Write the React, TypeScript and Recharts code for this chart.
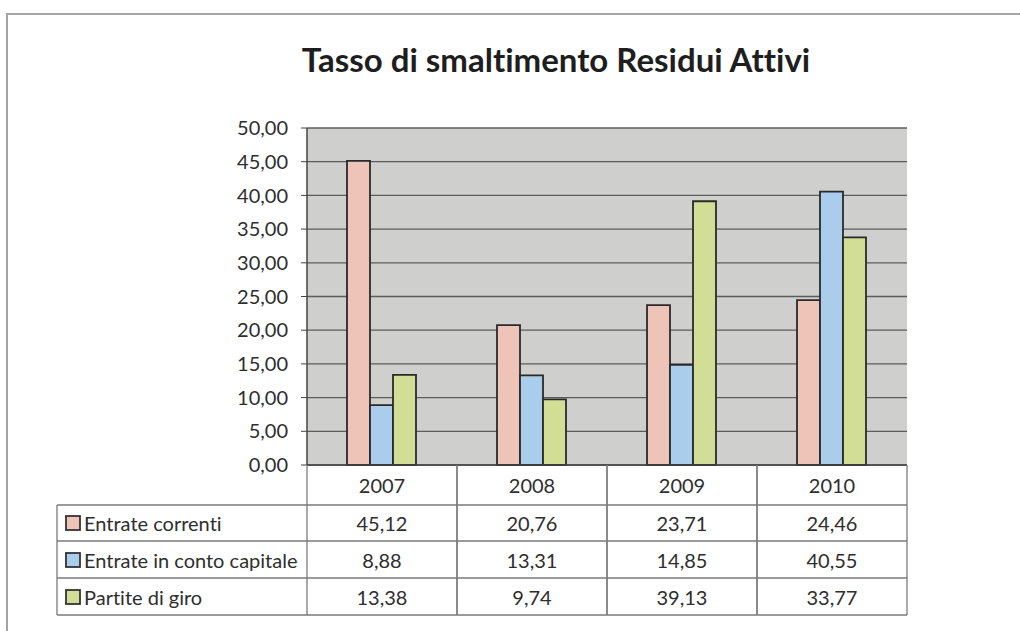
import React from "react";
import { Bar, BarChart, CartesianGrid, XAxis, YAxis } from "recharts";

const years = ["2007", "2008", "2009", "2010"];
const entrateCorrenti = [45.12, 20.76, 23.71, 24.46];
const entrateContoCapitale = [8.88, 13.31, 14.85, 40.55];
const partiteDiGiro = [13.38, 9.74, 39.13, 33.77];
const yTicks = [0, 5, 10, 15, 20, 25, 30, 35, 40, 45, 50];

const seriesList = [
  { key: "correnti", name: "Entrate correnti", values: entrateCorrenti, color: "#eec4b8" },
  { key: "capitale", name: "Entrate in conto capitale", values: entrateContoCapitale, color: "#a9cdeb" },
  { key: "giro", name: "Partite di giro", values: partiteDiGiro, color: "#d2de95" }
];

const data = years.map((year, i) => ({
  year,
  correnti: entrateCorrenti[i],
  capitale: entrateContoCapitale[i],
  giro: partiteDiGiro[i]
}));

const FONT = "Lato, 'Open Sans', sans-serif";
const TEXT = "#2e2e2e";
const LINE = "#7a7a7a";
const FS = 20;
const noLig = { fontVariantLigatures: "none" as const };

const fmt = (v: number) => v.toFixed(2).replace(".", ",");

// table geometry (relative to the x-axis line)
const COL_W = 150;
const LABEL_W = 250;
const rowLines = [40, 76, 113, 150];
const rowMid = [20, 58, 95, 132];

function TableTick(props: any) {
  const { x, y, payload, index } = props;
  const left = x - COL_W / 2;
  const right = x + COL_W / 2;
  return (
    <g>
      <line x1={left} y1={y} x2={left} y2={y + 150} stroke={LINE} strokeWidth={1.3} />
      <line x1={right} y1={y} x2={right} y2={y + 150} stroke={LINE} strokeWidth={1.3} />
      {rowLines.map((dy) => (
        <line key={dy} x1={left} y1={y + dy} x2={right} y2={y + dy} stroke={LINE} strokeWidth={1.3} />
      ))}
      <text x={x} y={y + rowMid[0]} textAnchor="middle" dominantBaseline="central" fontFamily={FONT} fontSize={FS} fill={TEXT}>
        {payload.value}
      </text>
      {seriesList.map((s, r) => (
        <text key={s.key} x={x} y={y + rowMid[r + 1]} textAnchor="middle" dominantBaseline="central" fontFamily={FONT} fontSize={FS} fill={TEXT}>
          {fmt(s.values[index])}
        </text>
      ))}
      {index === 0 && (
        <g>
          <line x1={left - LABEL_W} y1={y + 40} x2={left - LABEL_W} y2={y + 150} stroke={LINE} strokeWidth={1.3} />
          {rowLines.map((dy) => (
            <line key={dy} x1={left - LABEL_W} y1={y + dy} x2={left} y2={y + dy} stroke={LINE} strokeWidth={1.3} />
          ))}
          {seriesList.map((s, r) => (
            <g key={s.key}>
              <rect x={left - LABEL_W + 9} y={y + rowMid[r + 1] - 7} width={14} height={14} fill={s.color} stroke="#333" strokeWidth={1.8} />
              <text
                x={left - LABEL_W + 27}
                y={y + rowMid[r + 1]}
                dominantBaseline="central"
                fontFamily={FONT}
                fontSize={FS}
                fill={TEXT}
                style={noLig}
              >
                {s.name}
              </text>
            </g>
          ))}
        </g>
      )}
    </g>
  );
}

export default function App() {
  return (
    <div style={{ position: "absolute", left: 0, top: 0, width: 1020, height: 631, background: "#fff", overflow: "hidden" }}>
      <div
        style={{
          position: "absolute",
          left: 6,
          top: 13,
          width: 1030,
          height: 640,
          borderTop: "2px solid #a5a5a5",
          borderLeft: "2px solid #a5a5a5"
        }}
      />
      <div
        style={{
          position: "absolute",
          left: 0,
          top: 39,
          width: 1112,
          textAlign: "center",
          fontFamily: FONT,
          fontWeight: 700,
          fontSize: 33,
          lineHeight: "40px",
          fontVariantLigatures: "none",
          color: "#1e1e1e"
        }}
      >
        Tasso di smaltimento Residui Attivi
      </div>
      <div style={{ position: "absolute", left: 0, top: 0 }}>
        <BarChart
          width={1020}
          height={631}
          data={data}
          margin={{ top: 128, right: 113, bottom: 0, left: 0 }}
          barCategoryGap={40}
          barGap={0}
        >
          <CartesianGrid vertical={false} stroke="#5c5c5c" strokeWidth={1.3} fill="#cfcfcd" fillOpacity={1} />
          <XAxis
            dataKey="year"
            height={166}
            tickLine={false}
            tickSize={0}
            tickMargin={0}
            axisLine={{ stroke: "#444", strokeWidth: 1.5 }}
            tick={<TableTick />}
            interval={0}
          />
          <YAxis
            width={307}
            domain={[0, 50]}
            ticks={yTicks}
            tickFormatter={fmt}
            tickSize={6}
            tickMargin={13}
            tickLine={{ stroke: "#444" }}
            axisLine={{ stroke: "#444", strokeWidth: 1.5 }}
            tick={{ fill: TEXT, fontSize: FS, fontFamily: FONT }}
          />
          <YAxis
            yAxisId="right"
            orientation="right"
            width={0}
            domain={[0, 50]}
            tick={false}
            tickLine={false}
            axisLine={{ stroke: "#444", strokeWidth: 1.5 }}
          />
          {seriesList.map((s) => (
            <Bar
              key={s.key}
              dataKey={s.key}
              name={s.name}
              fill={s.color}
              stroke="#2a2a2a"
              strokeWidth={1.8}
              isAnimationActive={false}
            />
          ))}
        </BarChart>
      </div>
    </div>
  );
}
